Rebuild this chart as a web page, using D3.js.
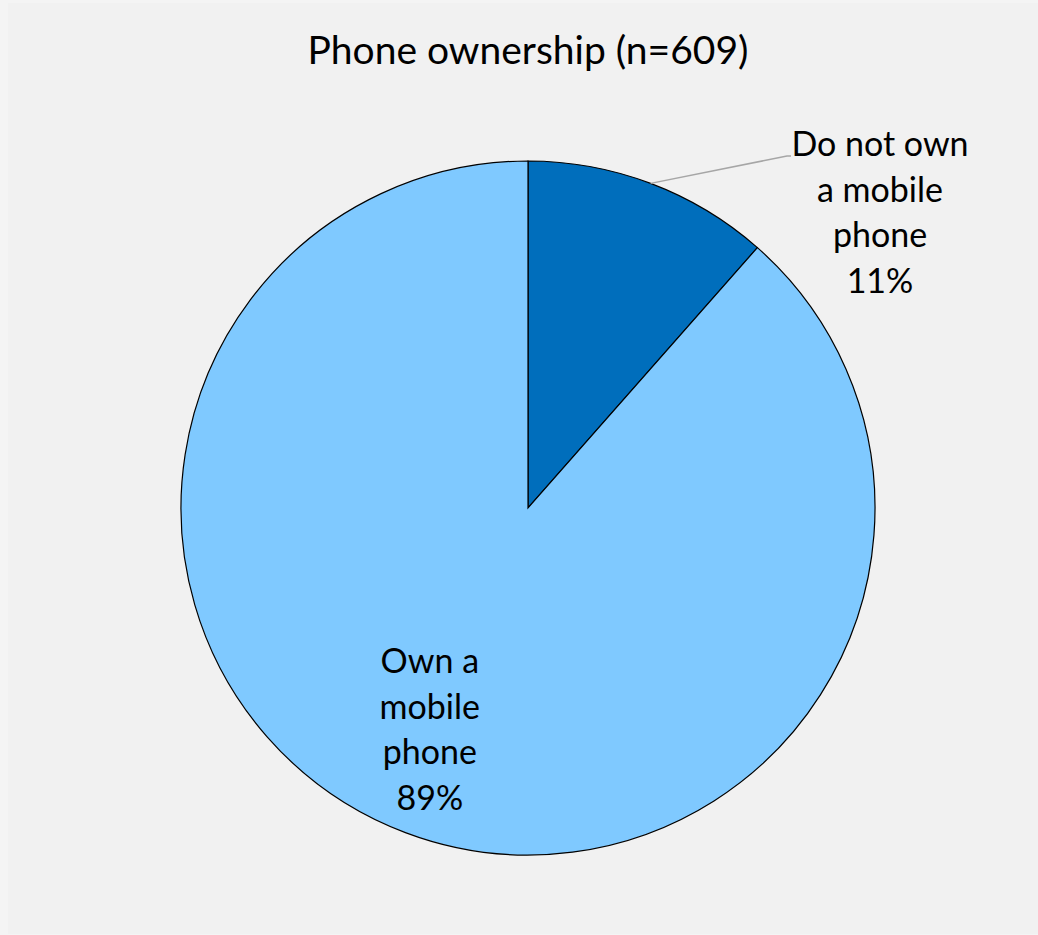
<!DOCTYPE html>
<html><head><meta charset="utf-8">
<script src="https://cdn.jsdelivr.net/npm/d3@7"></script>
<style>
html,body{margin:0;padding:0;background:#f4f4f4;}
svg{display:block;}
text{font-family:Lato,"Open Sans",sans-serif;fill:#000;}
</style></head><body>
<svg id="c" width="1038" height="935"></svg>
<script>
const title = "Phone ownership (n=609)";
const categories = ["Do not own a mobile phone", "Own a mobile phone"];
const counts = [70, 539];
const percentLabels = ["11%", "89%"];
const labelLines = [["Do not own","a mobile","phone"],["Own a","mobile","phone"]];
const colors = ["#006ebc", "#7fc9ff"];

const svg = d3.select("#c");
svg.append("rect").attr("x",8).attr("y",3).attr("width",1030).attr("height",931).attr("fill","#f1f1f1");

svg.append("text").attr("x",528).attr("y",64).attr("text-anchor","middle")
  .style("font-size","39px").text(title);

const cx = 528, cy = 508, R = 347;
const g = svg.append("g").attr("transform",`translate(${cx},${cy})`);
const data = categories.map((c,i)=>({cat:c, v:counts[i], pct:percentLabels[i], lines:labelLines[i], color:colors[i]}));
const pie = d3.pie().value(d=>d.v).sort(null);
const arcs = pie(data);
const arc = d3.arc().innerRadius(0).outerRadius(R);

g.selectAll("path").data(arcs).join("path")
  .attr("d",arc).attr("fill",d=>d.data.color)
  .attr("stroke","#000").attr("stroke-width",1.2);

// outside label for small slice
const a0 = arcs[0];
const mid0 = (a0.startAngle + a0.endAngle)/2;
const px = R*Math.sin(mid0), py = -R*Math.cos(mid0);
const lx = 787 - cx, ly = 156 - cy;
g.append("polyline")
  .attr("points",`${px},${py} ${lx},${ly} ${lx+4},${ly}`)
  .attr("fill","none").attr("stroke","#a6a6a6").attr("stroke-width",1.5);

function drawLabel(d, x, y){
  const t = g.append("text").attr("text-anchor","middle").style("font-size","34px");
  const lines = d.data.lines.concat([d.data.pct]);
  lines.forEach((s,i)=>{
    t.append("tspan").attr("x",x).attr("y",y + i*45.5).text(s);
  });
}
drawLabel(arcs[0], 880 - cx, 156 - cy);
const a1 = arcs[1];
const mid1 = (a1.startAngle + a1.endAngle)/2;
const r1 = 278;
const ix = r1*Math.sin(mid1), iy = -r1*Math.cos(mid1);
drawLabel(a1, ix, iy - 95);
</script></body></html>
